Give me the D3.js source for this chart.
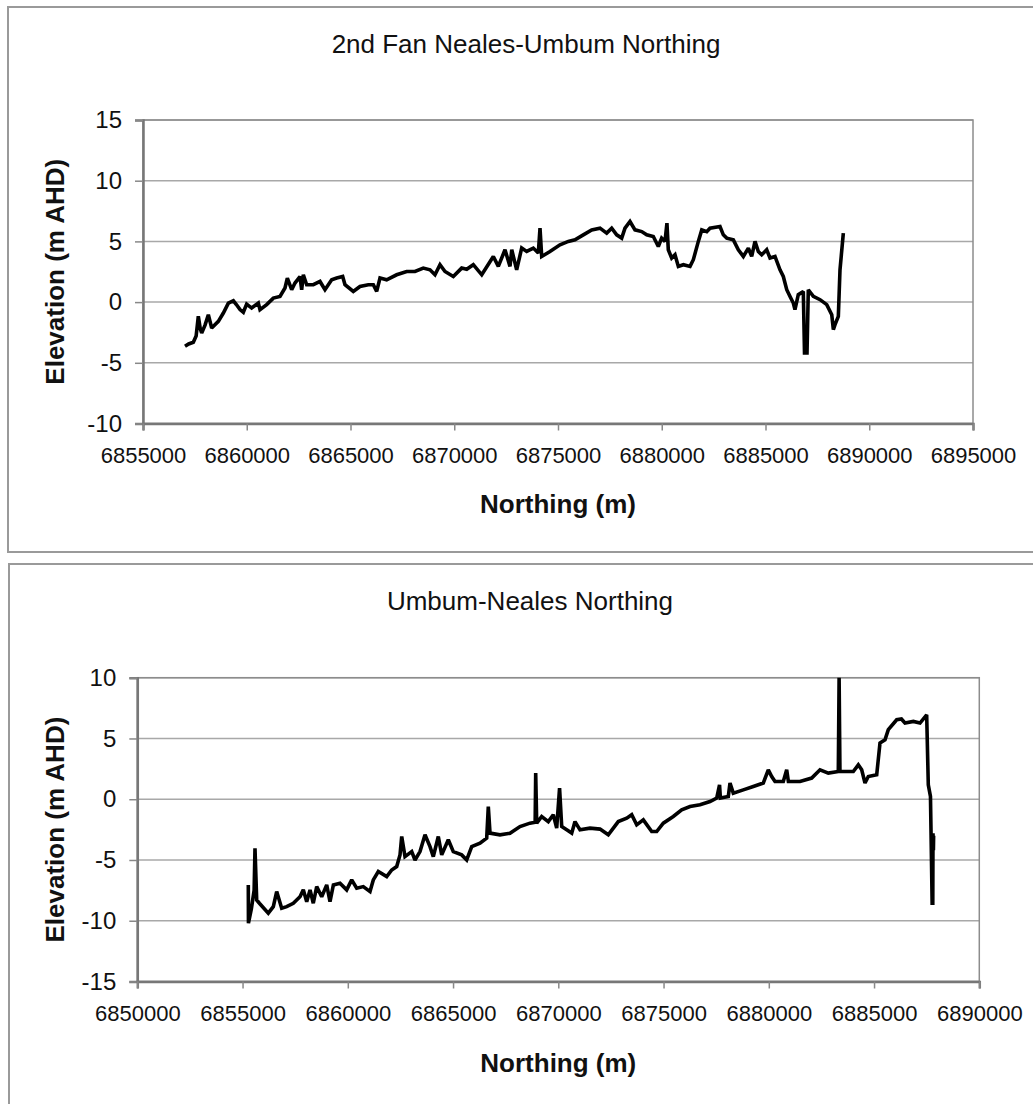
<!DOCTYPE html>
<html>
<head>
<meta charset="utf-8">
<script src="https://cdn.jsdelivr.net/npm/d3@7"></script>
<style>
  html, body { margin: 0; padding: 0; background: #fff; }
  svg { display: block; }
  text { font-family: "Liberation Sans", Arial, sans-serif; fill: #111; }
</style>
</head>
<body>
<svg id="chart" width="1033" height="1104"></svg>
<script>
// ---------- Data ----------
const topTitle = "2nd Fan Neales-Umbum Northing";
const bottomTitle = "Umbum-Neales Northing";
const xAxisTitle = "Northing (m)";
const yAxisTitle = "Elevation (m AHD)";

const topXTicks = [6855000, 6860000, 6865000, 6870000, 6875000, 6880000, 6885000, 6890000, 6895000];
const topYTicks = [-10, -5, 0, 5, 10, 15];
const bottomXTicks = [6850000, 6855000, 6860000, 6865000, 6870000, 6875000, 6880000, 6885000, 6890000];
const bottomYTicks = [-15, -10, -5, 0, 5, 10];

const topNorthing = [6857024,6857200,6857425,6857560,6857666,6857760,6857828,6857990,6858149,6858310,6858631,6858872,6859113,6859354,6859500,6859675,6859835,6859996,6860237,6860558,6860639,6860960,6861281,6861602,6861843,6861956,6862165,6862325,6862566,6862647,6862727,6862888,6863209,6863530,6863771,6864093,6864334,6864623,6864735,6865135,6865457,6865858,6866100,6866262,6866422,6866743,6867225,6867708,6868108,6868508,6868831,6869072,6869313,6869554,6869955,6870357,6870600,6870918,6871325,6871883,6872124,6872446,6872687,6872771,6873008,6873250,6873491,6873810,6874051,6874133,6874214,6874614,6875096,6875497,6875819,6876220,6876624,6877024,6877347,6877588,6877829,6878070,6878229,6878470,6878711,6879034,6879275,6879593,6879834,6879995,6880157,6880250,6880316,6880478,6880639,6880800,6881041,6881363,6881522,6881763,6881928,6882169,6882325,6882807,6882967,6883132,6883450,6883691,6883932,6884174,6884334,6884494,6884655,6884816,6885058,6885217,6885458,6885699,6885858,6886024,6886200,6886340,6886420,6886580,6886822,6886880,6887000,6887063,6887305,6887629,6887952,6888193,6888270,6888350,6888510,6888590,6888751];
const topElevation = [-3.64,-3.45,-3.31,-2.8,-1.17,-2.2,-2.55,-1.9,-1.04,-2.13,-1.59,-0.9,-0.08,0.11,-0.2,-0.62,-0.84,-0.16,-0.49,-0.08,-0.62,-0.21,0.33,0.47,1.16,1.98,1.02,1.57,2.11,1.02,2.25,1.43,1.43,1.7,1.02,1.84,1.98,2.11,1.43,0.88,1.29,1.43,1.43,0.88,1.98,1.84,2.25,2.52,2.52,2.8,2.66,2.25,3.08,2.52,2.11,2.8,2.7,3.08,2.25,3.76,2.94,4.31,2.94,4.31,2.66,4.45,4.17,4.45,4.04,6.09,3.76,4.17,4.72,5.0,5.13,5.54,5.95,6.09,5.68,6.09,5.54,5.27,6.09,6.64,5.95,5.81,5.54,5.4,4.58,5.27,5.0,6.5,4.31,3.63,3.9,2.94,3.08,2.94,3.49,5.0,5.95,5.8,6.09,6.23,5.54,5.27,5.13,4.31,3.76,4.45,3.76,5.0,4.17,3.9,4.31,3.63,3.76,2.66,2.11,1.02,0.4,-0.08,-0.62,0.61,0.88,-4.19,-4.19,1.02,0.47,0.2,-0.21,-1.04,-2.27,-1.86,-1.17,2.66,5.68];

const bottomNorthing = [6855273,6855280,6855420,6855550,6855591,6855672,6855800,6856223,6856461,6856622,6856859,6857097,6857411,6857729,6857886,6858048,6858206,6858361,6858523,6858760,6858998,6859154,6859315,6859629,6859947,6860185,6860423,6860736,6861055,6861211,6861449,6861848,6862085,6862323,6862480,6862561,6862717,6863036,6863193,6863430,6863668,6863905,6864062,6864299,6864461,6864774,6865012,6865411,6865648,6865886,6866281,6866599,6866675,6866756,6867230,6867705,6868180,6868655,6868900,6868926,6868974,6869211,6869525,6869762,6869924,6870060,6870162,6870399,6870637,6870793,6871031,6871506,6871981,6872375,6872850,6873250,6873487,6873725,6874038,6874437,6874675,6874988,6875463,6875862,6876257,6876732,6877207,6877525,6877660,6877700,6878076,6878157,6878313,6878788,6879263,6879738,6879976,6880138,6880295,6880689,6880850,6880930,6881482,6882038,6882433,6882827,6883302,6883340,6883380,6884014,6884252,6884413,6884570,6884727,6885126,6885282,6885520,6885677,6886076,6886300,6886470,6886865,6887183,6887500,6887577,6887680,6887760,6887790,6887800,6887820,6887830];
const bottomElevation = [-7.05,-10.2,-9.0,-7.5,-4.03,-8.29,-8.56,-9.38,-8.84,-7.6,-8.97,-8.84,-8.56,-8.02,-7.46,-8.43,-7.46,-8.56,-7.19,-8.02,-7.05,-8.43,-7.05,-6.91,-7.46,-6.64,-7.32,-7.19,-7.6,-6.64,-5.95,-6.37,-5.82,-5.54,-4.58,-3.07,-4.72,-4.31,-5.0,-4.31,-2.93,-3.9,-4.72,-3.07,-4.58,-3.34,-4.31,-4.58,-5.0,-3.9,-3.62,-3.2,-0.6,-2.79,-2.93,-2.8,-2.25,-1.97,-1.9,2.15,-1.97,-1.42,-1.84,-1.28,-2.38,0.91,-2.25,-2.52,-2.79,-1.84,-2.52,-2.38,-2.46,-2.93,-1.84,-1.56,-1.28,-2.11,-1.7,-2.66,-2.66,-1.97,-1.42,-0.87,-0.6,-0.46,-0.19,0.09,1.19,0.09,0.22,1.33,0.5,0.77,1.05,1.33,2.42,1.87,1.46,1.46,2.42,1.46,1.46,1.74,2.42,2.15,2.28,10.0,2.28,2.28,2.83,2.42,1.33,1.87,2.01,4.62,4.89,5.72,6.54,6.6,6.27,6.4,6.27,6.95,1.19,0.22,-8.56,-8.56,-2.8,-4.2,-3.0];

// ---------- Drawing ----------
const svg = d3.select("#chart");
const fontFam = '"Liberation Sans", Arial, sans-serif';
const fmt = d => String(d);   // plain hyphen-minus, as in the original

function drawPanel(cfg) {
  const g = svg.append("g");
  // outer frame
  g.append("rect")
    .attr("x", cfg.box[0]).attr("y", cfg.box[1])
    .attr("width", cfg.box[2]).attr("height", cfg.box[3])
    .attr("fill", "#fff").attr("stroke", "#9a9a9a").attr("stroke-width", 2);

  const x = d3.scaleLinear().domain(cfg.xDomain).range([cfg.plot.left, cfg.plot.right]);
  const y = d3.scaleLinear().domain(cfg.yDomain).range([cfg.plot.bottom, cfg.plot.top]);

  // gridlines
  g.append("g").selectAll("line").data(cfg.yTicks).join("line")
    .attr("x1", cfg.plot.left).attr("x2", cfg.plot.right)
    .attr("y1", d => y(d)).attr("y2", d => y(d))
    .attr("stroke", "#a8a8a8").attr("stroke-width", 1.5);

  // plot frame
  g.append("rect")
    .attr("x", cfg.plot.left).attr("y", cfg.plot.top)
    .attr("width", cfg.plot.right - cfg.plot.left)
    .attr("height", cfg.plot.bottom - cfg.plot.top)
    .attr("fill", "none").attr("stroke", "#8c8c8c").attr("stroke-width", 1.5);

  // axes
  const yAxis = d3.axisLeft(y).tickValues(cfg.yTicks).tickFormat(fmt)
    .tickSize(8).tickPadding(13);
  const ya = g.append("g").attr("transform", `translate(${cfg.plot.left},0)`).call(yAxis);
  ya.select(".domain").attr("stroke", "#777").attr("stroke-width", 2.5);
  ya.selectAll(".tick line").attr("stroke", "#888").attr("stroke-width", 1.5);
  ya.selectAll(".tick text").attr("font-family", fontFam).attr("font-size", 24).attr("fill", "#111");

  const xAxis = d3.axisBottom(x).tickValues(cfg.xTicks).tickFormat(fmt)
    .tickSize(7).tickPadding(17);
  const xa = g.append("g").attr("transform", `translate(0,${cfg.plot.bottom})`).call(xAxis);
  xa.select(".domain").attr("stroke", "#777").attr("stroke-width", 2.5);
  xa.selectAll(".tick line").attr("stroke", "#888").attr("stroke-width", 1.5);
  xa.selectAll(".tick text").attr("font-family", fontFam).attr("font-size", 22).attr("fill", "#111");

  // data line
  const pts = cfg.xs.map((n, i) => [n, cfg.ys[i]]);
  g.append("path").datum(pts)
    .attr("d", d3.line().x(d => x(d[0])).y(d => y(d[1])))
    .attr("fill", "none").attr("stroke", "#000").attr("stroke-width", 3.6)
    .attr("stroke-linejoin", "miter").attr("stroke-miterlimit", 2)
    .attr("stroke-linecap", "butt");

  // titles
  g.append("text").text(cfg.title)
    .attr("x", cfg.titlePos[0]).attr("y", cfg.titlePos[1])
    .attr("text-anchor", "middle").attr("font-size", 26);
  g.append("text").text(xAxisTitle)
    .attr("x", (cfg.plot.left + cfg.plot.right) / 2).attr("y", cfg.xTitleY)
    .attr("text-anchor", "middle").attr("font-size", 26).attr("font-weight", "bold");
  g.append("text").text(yAxisTitle)
    .attr("transform", `translate(${cfg.yTitleX},${(cfg.plot.top + cfg.plot.bottom) / 2}) rotate(-90)`)
    .attr("text-anchor", "middle").attr("font-size", 26).attr("font-weight", "bold");
}

drawPanel({
  box: [8, 7, 1030, 545],
  plot: { left: 143, right: 973, top: 120, bottom: 423.5 },
  xDomain: [6855000, 6895000], yDomain: [-10, 15],
  xTicks: topXTicks, yTicks: topYTicks,
  xs: topNorthing, ys: topElevation,
  title: topTitle, titlePos: [526, 53],
  xTitleY: 513, yTitleX: 63.5
});

drawPanel({
  box: [9, 564, 1030, 560],
  plot: { left: 137.3, right: 979.3, top: 677.7, bottom: 981.5 },
  xDomain: [6850000, 6890000], yDomain: [-15, 10],
  xTicks: bottomXTicks, yTicks: bottomYTicks,
  xs: bottomNorthing, ys: bottomElevation,
  title: bottomTitle, titlePos: [530, 610],
  xTitleY: 1072, yTitleX: 63.5
});
</script>
</body>
</html>
